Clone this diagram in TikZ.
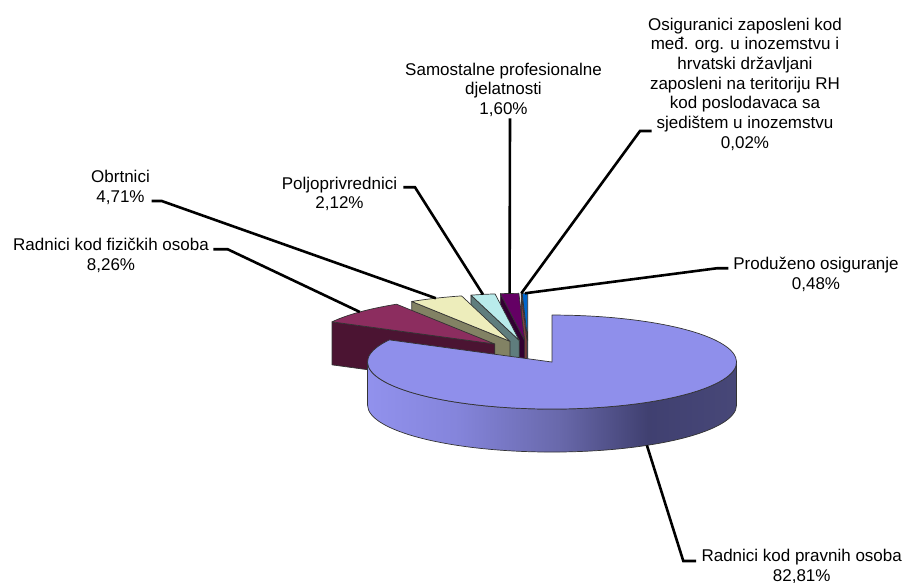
\documentclass[tikz,border=0pt]{standalone}
\usepackage{fontspec}
\setmainfont{Liberation Sans}

\definecolor{velgore}{HTML}{8F8FEB}
\definecolor{fizgore}{HTML}{8C2D5F}
\definecolor{fizbok}{HTML}{4B1432}
\definecolor{obrgore}{HTML}{EDEDBB}
\definecolor{obrbok}{HTML}{828264}
\definecolor{polgore}{HTML}{B9EBEB}
\definecolor{polbok}{HTML}{5F7D7D}
\definecolor{samgore}{HTML}{640064}
\definecolor{sambok}{HTML}{320032}
\definecolor{osigore}{HTML}{FF8080}
\definecolor{osibok}{HTML}{803F3F}
\definecolor{progore}{HTML}{0066CC}
\definecolor{probok}{HTML}{003C7A}

\pgfdeclarehorizontalshading{zidplavi}{100bp}{rgb(0bp)=(0.57,0.57,0.93); rgb(25bp)=(0.57,0.57,0.93); rgb(37bp)=(0.52,0.52,0.86); rgb(51bp)=(0.41,0.41,0.67); rgb(63bp)=(0.25,0.25,0.44); rgb(75bp)=(0.28,0.28,0.47); rgb(100bp)=(0.28,0.28,0.47)}

\tikzset{
  rub/.style={draw=black!80,line width=0.7pt,line join=round},
  vodilica/.style={line width=2.6pt,black},
  oznaka/.style={font=\fontsize{17}{19.7}\selectfont,align=center,inner sep=0pt,anchor=base}
}

% polumjeri elipse i debljina kolaca
\def\polua{184.5}
\def\polub{47}
\def\debljina{43}

% kriska: pocetni kut, zavrsni kut, boja gore, boja boka, ime tocke za vodilicu
\newcommand{\kriska}[5]{%
  \pgfmathsetmacro{\ksr}{(#1+#2)/2}
  \pgfmathsetmacro{\kx}{528.4+46*cos(\ksr)}
  \pgfmathsetmacro{\ky}{231+11.72*sin(\ksr)}
  \filldraw[rub,fill=#4] (\kx,\ky) -- ++({\polua*cos(#2)},{\polub*sin(#2)}) -- ++(0,-\debljina) -- (\kx,\ky-\debljina) -- cycle;
  \filldraw[rub,fill=#3] (\kx,\ky) -- ++({\polua*cos(#1)},{\polub*sin(#1)})
    arc[start angle=#1,end angle=#2,x radius=\polua,y radius=\polub] -- cycle;
  \path (\kx,\ky) ++({\polua*cos(\ksr)},{\polub*sin(\ksr)}) coordinate (#5);
}

\begin{document}
\begin{tikzpicture}[x=1pt,y=1pt]
  \useasboundingbox (0,0) rectangle (906,583);

  % male kriske, od straga prema naprijed
  \kriska{90}{91.728}{progore}{probok}{r-pro}
  \kriska{91.728}{91.8}{osigore}{osibok}{r-osi}
  \kriska{91.8}{97.56}{samgore}{sambok}{r-sam}
  \kriska{97.56}{105.192}{polgore}{polbok}{r-pol}
  \kriska{105.192}{122.148}{obrgore}{obrbok}{r-obr}
  \kriska{122.148}{151.884}{fizgore}{fizbok}{r-fiz}

  % velika kriska
  \pgfmathsetmacro{\kx}{528.4+46*cos(300.942)}
  \pgfmathsetmacro{\ky}{231+11.72*sin(300.942)}
  \shadedraw[rub,shading=zidplavi] (\kx-\polua,\ky) -- ++(0,-\debljina)
    arc[start angle=180,end angle=360,x radius=\polua,y radius=\polub] -- ++(0,\debljina)
    arc[start angle=360,end angle=180,x radius=\polua,y radius=\polub] -- cycle;
  \filldraw[rub,fill=velgore] (\kx,\ky) -- ++({\polua*cos(151.884)},{\polub*sin(151.884)})
    arc[start angle=151.884,end angle=450,x radius=\polua,y radius=\polub] -- cycle;
  \path (\kx,\ky) ++({\polua*cos(300.942)},{\polub*sin(300.942)-\debljina}) coordinate (r-vel);

  % oznake (sidro je na zadnjem retku)
  \begin{scope}[oznaka]
    \node (osig) at (745,434.7) {Osiguranici zaposleni kod\\međ. org. u inozemstvu i\\hrvatski državljani\\zaposleni na teritoriju RH\\kod poslodavaca sa\\sjedištem u inozemstvu\\0,02\%};
    \node (samost) at (503.5,468.5) {Samostalne profesionalne\\djelatnosti\\1,60\%};
    \node (poljo) at (339.5,374) {Poljoprivrednici\\2,12\%};
    \node (obrt) at (120.5,380.8) {Obrtnici\\4,71\%};
    \node (fiz) at (111,312.3) {Radnici kod fizičkih osoba\\8,26\%};
    \node (produz) at (816,293.7) {Produženo osiguranje\\0,48\%};
    \node (pravne) at (801.7,1.3) {Radnici kod pravnih osoba\\82,81\%};
  \end{scope}

  % vodilice
  \coordinate (k-fiz) at (227.7,333.7);
  \coordinate (e-fiz) at (213.3,333.7);
  \coordinate (k-obr) at (161.7,382);
  \coordinate (e-obr) at (151.7,382);
  \coordinate (k-pol) at (415,395.7);
  \coordinate (e-pol) at (403.3,395.7);
  \coordinate (e-sam) at (510,464.7);
  \coordinate (k-osi) at (640,452);
  \coordinate (e-osi) at (651.7,452);
  \coordinate (k-pro) at (716.7,314.7);
  \coordinate (e-pro) at (728.3,314.7);
  \coordinate (k-vel) at (683.3,22);
  \coordinate (e-vel) at (696,22);

  \draw[vodilica] (r-fiz) -- (k-fiz) -- (e-fiz);
  \draw[vodilica] (r-obr) -- (k-obr) -- (e-obr);
  \draw[vodilica] (r-pol) -- (k-pol) -- (e-pol);
  \draw[vodilica] (r-sam) -- (e-sam);
  \draw[vodilica] (r-osi) -- (k-osi) -- (e-osi);
  \draw[vodilica] (r-pro) -- (k-pro) -- (e-pro);
  \draw[vodilica] (r-vel) -- (k-vel) -- (e-vel);
\end{tikzpicture}
\end{document}
